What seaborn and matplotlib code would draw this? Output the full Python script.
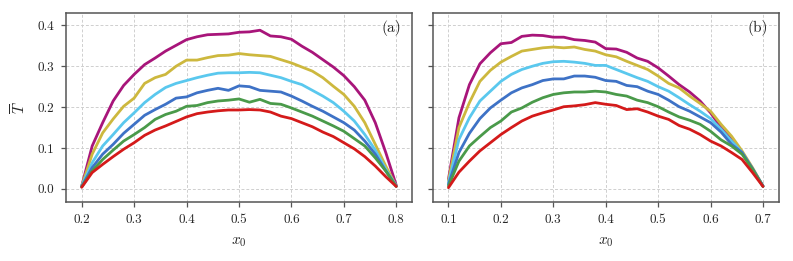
import numpy as np
import pandas as pd
import matplotlib
matplotlib.use("Agg")
import matplotlib.pyplot as plt
import seaborn as sns

# --- Datos ---

x_a = np.round(np.arange(0.20, 0.8001, 0.02), 2)
x_b = np.round(np.arange(0.10, 0.7001, 0.02), 2)

series_names = ["s1", "s2", "s3", "s4", "s5", "s6"]
colors = ["#A8157A", "#CDB83E", "#5AC8EE", "#3E72C6", "#4A9A4A", "#D41A1A"]

# panel (a)
a_s1 = [0.007, 0.105, 0.162, 0.215, 0.253, 0.280, 0.304, 0.320, 0.337, 0.351, 0.365,
        0.372, 0.377, 0.378, 0.379, 0.383, 0.384, 0.388, 0.374, 0.372, 0.366, 0.349,
        0.334, 0.316, 0.298, 0.277, 0.250, 0.217, 0.162, 0.089, 0.009]
a_s2 = [0.007, 0.085, 0.137, 0.171, 0.202, 0.222, 0.258, 0.272, 0.280, 0.300, 0.315,
        0.315, 0.321, 0.326, 0.327, 0.331, 0.328, 0.326, 0.324, 0.316, 0.308, 0.298,
        0.288, 0.272, 0.251, 0.231, 0.202, 0.162, 0.109, 0.056, 0.007]
a_s3 = [0.007, 0.064, 0.105, 0.133, 0.162, 0.186, 0.211, 0.231, 0.248, 0.258, 0.265,
        0.272, 0.278, 0.283, 0.284, 0.284, 0.285, 0.284, 0.278, 0.272, 0.263, 0.255,
        0.241, 0.227, 0.211, 0.190, 0.166, 0.133, 0.095, 0.048, 0.007]
a_s4 = [0.006, 0.052, 0.085, 0.109, 0.136, 0.158, 0.180, 0.194, 0.207, 0.222, 0.225,
        0.235, 0.241, 0.246, 0.241, 0.252, 0.250, 0.241, 0.239, 0.237, 0.227, 0.215,
        0.202, 0.190, 0.176, 0.162, 0.144, 0.117, 0.085, 0.044, 0.007]
a_s5 = [0.005, 0.044, 0.072, 0.095, 0.117, 0.133, 0.150, 0.170, 0.182, 0.190, 0.202,
        0.204, 0.211, 0.215, 0.217, 0.220, 0.212, 0.219, 0.209, 0.207, 0.198, 0.188,
        0.178, 0.166, 0.154, 0.141, 0.123, 0.105, 0.076, 0.044, 0.006]
a_s6 = [0.004, 0.040, 0.060, 0.079, 0.097, 0.113, 0.131, 0.144, 0.154, 0.165, 0.176,
        0.184, 0.188, 0.191, 0.193, 0.193, 0.194, 0.193, 0.188, 0.178, 0.172, 0.162,
        0.152, 0.139, 0.128, 0.113, 0.098, 0.079, 0.056, 0.030, 0.006]

# panel (b)
b_s1 = [0.024, 0.174, 0.255, 0.306, 0.333, 0.355, 0.358, 0.373, 0.376, 0.375, 0.371,
        0.371, 0.365, 0.363, 0.359, 0.343, 0.342, 0.334, 0.320, 0.312, 0.296, 0.276,
        0.255, 0.237, 0.215, 0.186, 0.150, 0.121, 0.089, 0.048, 0.007]
b_s2 = [0.020, 0.150, 0.211, 0.263, 0.290, 0.310, 0.324, 0.337, 0.341, 0.345, 0.347,
        0.345, 0.347, 0.341, 0.337, 0.328, 0.323, 0.312, 0.302, 0.292, 0.276, 0.258,
        0.247, 0.227, 0.209, 0.190, 0.158, 0.129, 0.093, 0.052, 0.007]
b_s3 = [0.015, 0.121, 0.174, 0.215, 0.239, 0.263, 0.280, 0.292, 0.300, 0.307, 0.311,
        0.312, 0.310, 0.307, 0.302, 0.302, 0.292, 0.282, 0.272, 0.263, 0.250, 0.239,
        0.223, 0.206, 0.190, 0.172, 0.146, 0.117, 0.089, 0.048, 0.007]
b_s4 = [0.011, 0.089, 0.136, 0.172, 0.198, 0.217, 0.235, 0.247, 0.255, 0.265, 0.269,
        0.269, 0.276, 0.276, 0.273, 0.265, 0.263, 0.253, 0.250, 0.239, 0.231, 0.217,
        0.201, 0.190, 0.176, 0.162, 0.139, 0.109, 0.089, 0.050, 0.007]
b_s5 = [0.007, 0.068, 0.105, 0.128, 0.150, 0.166, 0.188, 0.198, 0.212, 0.223, 0.231,
        0.235, 0.237, 0.237, 0.239, 0.237, 0.231, 0.227, 0.217, 0.211, 0.201, 0.188,
        0.176, 0.168, 0.158, 0.141, 0.120, 0.105, 0.085, 0.048, 0.006]
b_s6 = [0.003, 0.041, 0.068, 0.093, 0.113, 0.133, 0.150, 0.166, 0.178, 0.186, 0.193,
        0.201, 0.203, 0.206, 0.211, 0.207, 0.204, 0.194, 0.196, 0.188, 0.178, 0.170,
        0.155, 0.146, 0.133, 0.117, 0.105, 0.089, 0.072, 0.040, 0.006]


def long_form(x, curves):
    frames = [pd.DataFrame({"x0": x, "T": vals, "serie": name})
              for name, vals in zip(series_names, curves)]
    return pd.concat(frames, ignore_index=True)


df_a = long_form(x_a, [a_s1, a_s2, a_s3, a_s4, a_s5, a_s6])
df_b = long_form(x_b, [b_s1, b_s2, b_s3, b_s4, b_s5, b_s6])

sns.set_theme(style="ticks")
plt.rcParams["font.family"] = "serif"
plt.rcParams["font.serif"] = ["cmr10"]
plt.rcParams["mathtext.fontset"] = "cm"
plt.rcParams["axes.formatter.use_mathtext"] = True
plt.rcParams["axes.unicode_minus"] = False

fig, axes = plt.subplots(1, 2, figsize=(7.93, 2.61), dpi=100, sharey=True)
fig.subplots_adjust(left=0.0832, right=0.982, bottom=0.226, top=0.950, wspace=0.06)

palette = dict(zip(series_names, colors))
for ax, df, label, ticks in [
    (axes[0], df_a, "(a)", [0.2, 0.3, 0.4, 0.5, 0.6, 0.7, 0.8]),
    (axes[1], df_b, "(b)", [0.1, 0.2, 0.3, 0.4, 0.5, 0.6, 0.7]),
]:
    sns.lineplot(data=df, x="x0", y="T", hue="serie", palette=palette,
                 linewidth=2.0, legend=False, ax=ax)
    ax.set_xticks(ticks)
    ax.set_xticklabels([f"{t:.1f}" for t in ticks])
    ax.set_xlim(ticks[0] - 0.03, ticks[-1] + 0.03)
    ax.grid(True, linestyle=(0, (3, 2)), color="#cfcfcf", linewidth=0.7)
    ax.set_axisbelow(True)
    for sp in ax.spines.values():
        sp.set_color("#555555")
        sp.set_linewidth(1.1)
    ax.tick_params(direction="out", length=3.5, width=0.9, color="#555555",
                   labelsize=9.5, pad=5)
    ax.set_xlabel(r"$x_0$", fontsize=11, labelpad=7)
    ax.text(0.968, 0.92, label, transform=ax.transAxes, ha="right", va="center",
            fontsize=11)

axes[0].set_ylim(-0.032, 0.43)
axes[0].set_yticks([0.0, 0.1, 0.2, 0.3, 0.4])
axes[0].set_yticklabels(["0.0", "0.1", "0.2", "0.3", "0.4"])
axes[0].set_ylabel(r"$\overline{T}$", fontsize=11, labelpad=6)
axes[1].set_ylabel("")

fig.savefig("out.png", dpi=100)
plt.close(fig)
